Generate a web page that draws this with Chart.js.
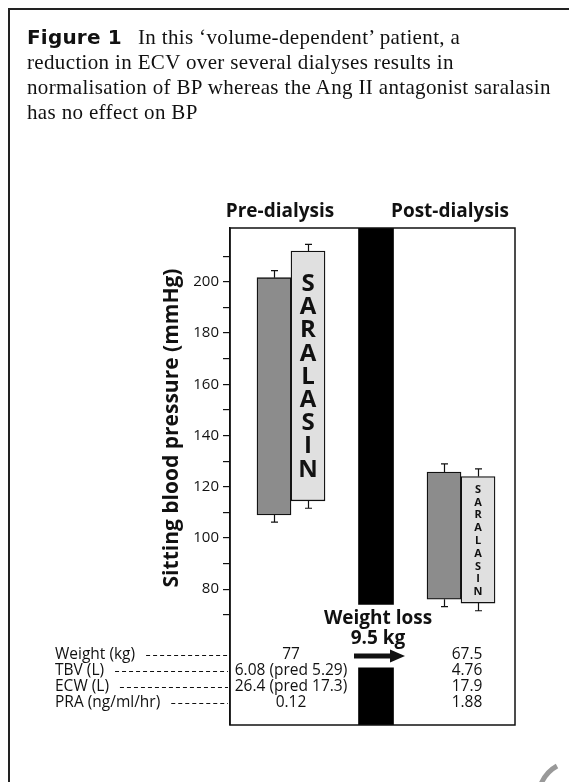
<!DOCTYPE html>
<html>
<head>
<meta charset="utf-8">
<script src="https://cdn.jsdelivr.net/npm/chart.js@4/dist/chart.umd.min.js"></script>
<style>
  html, body { margin: 0; padding: 0; background: #fff; width: 569px; height: 782px; overflow: hidden; }
  #frame { position: absolute; left: 8px; top: 8px; width: 700px; height: 900px;
           border-left: 2px solid #222; border-top: 2px solid #222; }
  #wrap { position: absolute; left: 0; top: 0; width: 569px; height: 782px; }
  #cap { position: absolute; left: 27px; top: 25px; width: 540px; color: #111;
         font-family: 'Liberation Serif', 'DejaVu Serif', serif; font-size: 21px; letter-spacing: 0.35px; line-height: 25px; white-space: nowrap; }
  #cap b { font-family: 'DejaVu Sans', sans-serif; font-weight: 900; font-size: 20px; letter-spacing: 0.2px; margin-right: 16px; }
  #curl { position: absolute; left: 0; top: 0; }
</style>
</head>
<body>
<div id="frame"></div>
<div id="wrap"><canvas id="c" width="569" height="782"></canvas></div>
<div id="cap"><b>Figure 1</b>In this ‘volume-dependent’ patient, a<br>reduction in ECV over several dialyses results in<br>normalisation of BP whereas the Ang II antagonist saralasin<br>has no effect on BP</div>
<svg id="curl" width="569" height="782"><path d="M541,784 Q546,772 557,766" fill="none" stroke="#999" stroke-width="5"/></svg>
<script>
// ---- data ----
const groups = ['Pre-dialysis', 'Post-dialysis'];
const groupX = [0, 2];
const bandX = 1;
const bpNoDrug = [[109.0, 201.6], [76.1, 125.7]];
const bpSaralasin = [[114.5, 212.0], [74.6, 124.0]];
const errNoDrug = [[106.2, 204.4], [73.2, 128.9]];
const errSaralasin = [[111.6, 214.6], [71.6, 127.0]];
const bandSegments = [[74.1, 221], [27, 49.3]];
const yTicks = [70, 80, 90, 100, 110, 120, 130, 140, 150, 160, 170, 180, 190, 200, 210];
const yTickLabels = ['', '80', '', '100', '', '120', '', '140', '', '160', '', '180', '', '200', ''];
const yTitle = 'Sitting blood pressure (mmHg)';
const drugLabel = 'SARALASIN';
const weightLoss = ['Weight loss', '9.5 kg'];
const rowLabels = ['Weight (kg)', 'TBV (L)', 'ECW (L)', 'PRA (ng/ml/hr)'];
const preValues = ['77', '6.08 (pred 5.29)', '26.4 (pred 17.3)', '0.12'];
const postValues = ['67.5', '4.76', '17.9', '1.88'];

const INK = '#111';

const boxPlugin = {
  id: 'box',
  afterDraw(chart) {
    const {ctx, chartArea: a} = chart;
    ctx.save();
    ctx.strokeStyle = INK; ctx.lineWidth = 1.5;
    ctx.strokeRect(a.left, a.top, a.right - a.left, a.bottom - a.top);
    ctx.restore();
  }
};

const errPlugin = {
  id: 'errs',
  afterDatasetsDraw(chart) {
    const {ctx} = chart;
    const y = chart.scales.y;
    const errs = [errNoDrug, errSaralasin];
    const vals = [bpNoDrug, bpSaralasin];
    ctx.save();
    ctx.strokeStyle = INK; ctx.lineWidth = 1.2;
    errs.forEach((e, di) => {
      chart.getDatasetMeta(di).data.forEach((el, i) => {
        const x = Math.round(el.x) + 0.5;
        const pairs = [[vals[di][i][1], e[i][1]], [vals[di][i][0], e[i][0]]];
        pairs.forEach(([from, to]) => {
          const p0 = y.getPixelForValue(from), p1 = y.getPixelForValue(to);
          ctx.beginPath();
          ctx.moveTo(x, p0); ctx.lineTo(x, p1);
          ctx.moveTo(x - 3.5, p1); ctx.lineTo(x + 3.5, p1);
          ctx.stroke();
        });
      });
    });
    ctx.restore();
  }
};

const letterPlugin = {
  id: 'letters',
  afterDatasetsDraw(chart) {
    const {ctx} = chart;
    const sizes = [24, 11];
    const gaps = [23.2, 12.8];
    ctx.save();
    ctx.fillStyle = INK;
    ctx.textAlign = 'center'; ctx.textBaseline = 'middle';
    chart.getDatasetMeta(1).data.forEach((el, i) => {
      const mid = (el.y + el.base) / 2;
      ctx.font = `bold ${sizes[i]}px "Open Sans"`;
      const chars = drugLabel.split('');
      chars.forEach((ch, k) => {
        ctx.fillText(ch, el.x, mid + (k - (chars.length - 1) / 2) * gaps[i] + 1);
      });
    });
    ctx.restore();
  }
};

const annoPlugin = {
  id: 'anno',
  afterDraw(chart) {
    const {ctx, chartArea: a} = chart;
    const xs = chart.scales.x;
    ctx.save();
    ctx.fillStyle = INK;
    // y title
    ctx.save();
    ctx.translate(172, 428);
    ctx.rotate(-Math.PI / 2);
    ctx.font = 'bold 21px "Open Sans"';
    ctx.textAlign = 'center'; ctx.textBaseline = 'middle';
    ctx.fillText(yTitle, 0, 0);
    ctx.restore();
    // weight loss
    const bx = xs.getPixelForValue(bandX) + 2;
    ctx.font = 'bold 19px "Open Sans"';
    ctx.textAlign = 'center'; ctx.textBaseline = 'middle';
    ctx.fillText(weightLoss[0], bx, a.bottom - 106);
    ctx.fillText(weightLoss[1], bx, a.bottom - 86);
    // arrow
    const ay = a.bottom - 69;
    ctx.fillRect(bx - 24, ay - 2.5, 38, 5);
    ctx.beginPath();
    ctx.moveTo(bx + 27, ay); ctx.lineTo(bx + 12, ay - 6.5); ctx.lineTo(bx + 12, ay + 6.5); ctx.closePath();
    ctx.fill();
    // table
    const rowOffsets = [70.5, 54.5, 38.5, 22.5];
    ctx.font = '15.5px "Open Sans"';
    ctx.textBaseline = 'middle';
    rowLabels.forEach((lab, r) => {
      const ry = a.bottom - rowOffsets[r];
      ctx.textAlign = 'left';
      ctx.fillStyle = INK;
      ctx.fillText(lab, 55, ry);
      const w = ctx.measureText(lab).width;
      ctx.save();
      ctx.strokeStyle = INK; ctx.lineWidth = 1;
      ctx.setLineDash([4, 3]);
      ctx.beginPath();
      ctx.moveTo(55 + w + 11, Math.round(ry) + 0.5); ctx.lineTo(a.left - 2, Math.round(ry) + 0.5);
      ctx.stroke();
      ctx.restore();
      ctx.textAlign = 'center';
      ctx.fillText(preValues[r], xs.getPixelForValue(groupX[0]), ry);
      ctx.fillText(postValues[r], xs.getPixelForValue(groupX[1]) + 6, ry);
    });
    ctx.restore();
  }
};

new Chart(document.getElementById('c'), {
  type: 'bar',
  data: {
    datasets: [
      { label: 'No drug', data: groupX.map((x, i) => ({x, y: bpNoDrug[i]})),
        backgroundColor: '#8c8c8c', borderColor: INK, borderWidth: 1.3, borderSkipped: false, barThickness: 34 },
      { label: 'Saralasin', data: groupX.map((x, i) => ({x, y: bpSaralasin[i]})),
        backgroundColor: '#e0e0e0', borderColor: INK, borderWidth: 1.3, borderSkipped: false, barThickness: 34 },
      { label: 'Dialysis', data: bandSegments.map(y => ({x: bandX, y})),
        backgroundColor: '#000', borderWidth: 0, barThickness: 35, grouped: false }
    ]
  },
  options: {
    responsive: false,
    animation: false,
    events: [],
    layout: { padding: { left: 0, top: 188, right: 54, bottom: 57 } },
    plugins: { legend: { display: false }, tooltip: { enabled: false } },
    scales: {
      x: {
        type: 'linear', position: 'top', min: -0.7176, max: 2.635, offset: false, bounds: 'data',
        grid: { display: false, drawTicks: false }, border: { display: false },
        afterBuildTicks: s => { s.ticks = groupX.map(v => ({value: v})); },
        afterFit: s => { s.height = 40; },
        ticks: { callback: (v, i) => groups[i], autoSkip: false, maxRotation: 0,
                 font: { family: 'Open Sans', weight: 'bold', size: 19 }, color: INK, padding: 5, labelOffset: -11 }
      },
      y: {
        min: 27, max: 221,
        afterBuildTicks: s => { s.ticks = yTicks.map(v => ({value: v})); },
        afterFit: s => { s.width = 230; },
        grid: { drawOnChartArea: false, drawTicks: true, tickLength: 7, color: INK, lineWidth: 1.2 },
        border: { display: true, color: INK, width: 1.5 },
        ticks: { callback: (v, i) => yTickLabels[i], autoSkip: false,
                 font: { family: 'Open Sans', size: 15 }, color: INK, padding: 4 }
      }
    }
  },
  plugins: [boxPlugin, errPlugin, letterPlugin, annoPlugin]
});
</script>
</body>
</html>
